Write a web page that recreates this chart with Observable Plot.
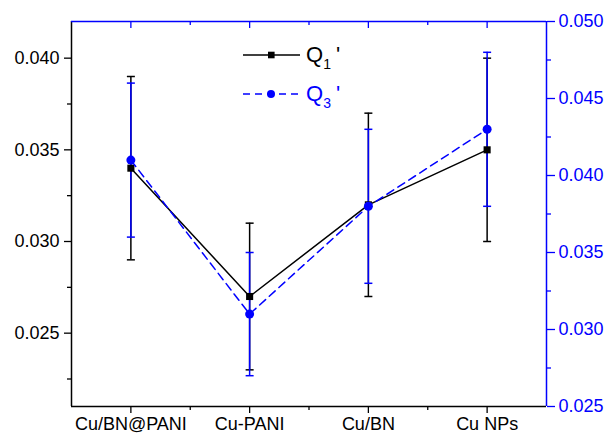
<!DOCTYPE html>
<html>
<head>
<meta charset="utf-8">
<script src="https://cdn.jsdelivr.net/npm/d3@7"></script>
<script src="https://cdn.jsdelivr.net/npm/@observablehq/plot@0.6"></script>
<style>
  html, body { margin: 0; padding: 0; background: #fff; }
  #wrap { position: relative; width: 606px; height: 434px; font-family: "Liberation Sans", Arial, sans-serif; }
  #legend { position: absolute; left: 0; top: 0; }
</style>
</head>
<body>
<div id="wrap"></div>
<script>
const categories = ["Cu/BN@PANI", "Cu-PANI", "Cu/BN", "Cu NPs"];
const q1 = [0.034, 0.027, 0.032, 0.035];
const q1Err = [0.005, 0.004, 0.005, 0.005];
const q3 = [0.041, 0.031, 0.038, 0.043];
const q3Err = [0.005, 0.004, 0.005, 0.005];
const leftTicks = [0.025, 0.030, 0.035, 0.040];
const leftMinor = [0.0225, 0.0275, 0.0325, 0.0375];
const rightTicks = [0.025, 0.030, 0.035, 0.040, 0.045, 0.050];
const rightMinor = [0.0275, 0.0325, 0.0375, 0.0425, 0.0475];
const leftDomain = [0.021, 0.042];
const rightDomain = [0.025, 0.050];

const BLUE = "#0000ff";
const BLACK = "#000000";

const toLeft = v => leftDomain[0] + (v - rightDomain[0]) * (leftDomain[1] - leftDomain[0]) / (rightDomain[1] - rightDomain[0]);
const toRight = v => rightDomain[0] + (v - leftDomain[0]) * (rightDomain[1] - rightDomain[0]) / (leftDomain[1] - leftDomain[0]);
const fmt = d3.format(".3f");

const idx = categories.map((c, i) => i);
const xMajor = idx;
const xMinor = idx.slice(0, -1).map(i => i + 0.5);
const s1 = categories.map((c, i) => ({i, v: q1[i], lo: q1[i] - q1Err[i], hi: q1[i] + q1Err[i]}));
const s3 = categories.map((c, i) => ({i, v: toLeft(q3[i]), lo: toLeft(q3[i] - q3Err[i]), hi: toLeft(q3[i] + q3Err[i])}));

const capSymbol = {
  draw(context, size) {
    const r = Math.sqrt(size / Math.PI);
    context.moveTo(-r, 0);
    context.lineTo(r, 0);
  }
};

const W = 606, H = 434, mT = 21, mB = 28, mL = 71, mR = 60;
const frameH = H - mT - mB;
const FS = 18;

const chart = Plot.plot({
  width: W,
  height: H,
  marginTop: mT,
  marginBottom: mB,
  marginLeft: mL,
  marginRight: mR,
  style: {fontFamily: "'Liberation Sans', Arial, sans-serif", fontSize: FS + "px", background: "#fff", color: BLACK},
  x: {domain: [-0.5, categories.length - 0.5], axis: null},
  y: {domain: leftDomain, axis: null},
  marks: [
    // left axis
    Plot.axisY({ticks: leftTicks, anchor: "left", tickSize: 7, tickPadding: 5, tickFormat: fmt, label: null, stroke: BLACK, strokeWidth: 1.3, fill: BLACK, fontSize: FS}),
    Plot.axisY({ticks: leftMinor, anchor: "left", tickSize: 4, tickFormat: () => "", label: null, stroke: BLACK, strokeWidth: 1.3}),
    // right axis
    Plot.axisY({ticks: rightTicks.map(toLeft), anchor: "right", tickSize: 8, tickPadding: 4, tickFormat: d => fmt(toRight(d)), label: null, stroke: BLUE, fill: BLUE, strokeWidth: 1.3, fontSize: FS}),
    Plot.axisY({ticks: rightMinor.map(toLeft), anchor: "right", tickSize: 4, tickFormat: () => "", label: null, stroke: BLUE, strokeWidth: 1.3}),
    // bottom axis
    Plot.axisX({ticks: xMajor, anchor: "bottom", tickSize: 7, tickPadding: 4, tickFormat: i => categories[i], label: null, stroke: BLACK, strokeWidth: 1.3, fill: BLACK, fontSize: FS}),
    Plot.axisX({ticks: xMinor, anchor: "bottom", tickSize: 4, tickFormat: () => "", label: null, stroke: BLACK, strokeWidth: 1.3}),
    // top axis ticks (inward)
    Plot.ruleX(xMajor, {stroke: BLUE, strokeWidth: 1.3, insetBottom: frameH - 7}),
    Plot.ruleX(xMinor, {stroke: BLUE, strokeWidth: 1.3, insetBottom: frameH - 4}),
    // frame
    Plot.ruleX([-0.5], {stroke: BLACK, strokeWidth: 1.5}),
    Plot.ruleY([leftDomain[0]], {stroke: BLACK, strokeWidth: 1.5}),
    Plot.ruleX([categories.length - 0.5], {stroke: BLUE, strokeWidth: 1.5}),
    Plot.ruleY([leftDomain[1]], {stroke: BLUE, strokeWidth: 1.5}),
    // Q1 error bars
    Plot.ruleX(s1, {x: "i", y1: "lo", y2: "hi", stroke: BLACK, strokeWidth: 1.5}),
    Plot.dot(s1, {x: "i", y: "lo", symbol: capSymbol, r: 4, stroke: BLACK, strokeWidth: 1.5, fill: "none"}),
    Plot.dot(s1, {x: "i", y: "hi", symbol: capSymbol, r: 4, stroke: BLACK, strokeWidth: 1.5, fill: "none"}),
    // Q3 error bars
    Plot.ruleX(s3, {x: "i", y1: "lo", y2: "hi", stroke: BLUE, strokeWidth: 1.5}),
    Plot.dot(s3, {x: "i", y: "lo", symbol: capSymbol, r: 4, stroke: BLUE, strokeWidth: 1.5, fill: "none"}),
    Plot.dot(s3, {x: "i", y: "hi", symbol: capSymbol, r: 4, stroke: BLUE, strokeWidth: 1.5, fill: "none"}),
    // lines
    Plot.line(s1, {x: "i", y: "v", stroke: BLACK, strokeWidth: 1.5}),
    Plot.dot(s1, {x: "i", y: "v", symbol: "square", r: 4, fill: BLACK, stroke: "none"}),
    Plot.line(s3, {x: "i", y: "v", stroke: BLUE, strokeWidth: 1.5, strokeDasharray: "8,5"}),
    Plot.dot(s3, {x: "i", y: "v", symbol: "circle", r: 4.5, fill: BLUE, stroke: "none"})
  ]
});

const wrap = document.getElementById("wrap");
wrap.appendChild(chart);

// Legend overlay
const ns = "http://www.w3.org/2000/svg";
const leg = document.createElementNS(ns, "svg");
leg.setAttribute("id", "legend");
leg.setAttribute("width", W);
leg.setAttribute("height", H);
leg.innerHTML = `
  <g font-family="'Liberation Sans', Arial, sans-serif">
    <line x1="243" y1="55" x2="300" y2="55" stroke="${BLACK}" stroke-width="1.5"/>
    <rect x="268" y="51.7" width="6.6" height="6.6" fill="${BLACK}"/>
    <text x="306" y="62" font-size="22" fill="${BLACK}">Q<tspan font-size="14" dy="7">1</tspan><tspan font-size="22" dy="-7" dx="5">'</tspan></text>
    <line x1="243" y1="94" x2="300" y2="94" stroke="${BLUE}" stroke-width="1.5" stroke-dasharray="7,5"/>
    <circle cx="271" cy="94" r="4" fill="${BLUE}"/>
    <text x="306" y="101" font-size="22" fill="${BLUE}">Q<tspan font-size="14" dy="7">3</tspan><tspan font-size="22" dy="-7" dx="5">'</tspan></text>
  </g>`;
wrap.appendChild(leg);
</script>
</body>
</html>
